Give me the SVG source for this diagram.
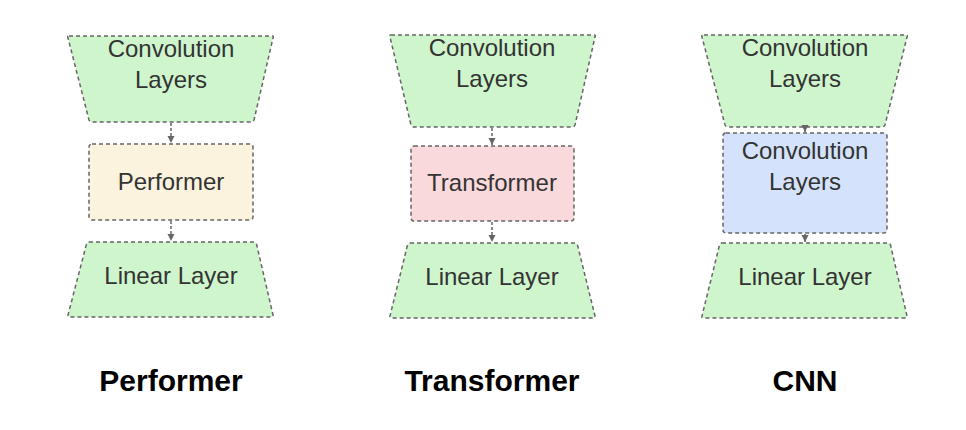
<svg xmlns="http://www.w3.org/2000/svg" width="966" height="430" viewBox="0 0 966 430">
<defs>
<style>
.shape{stroke:#666;stroke-width:1.5;stroke-dasharray:4 3;stroke-linejoin:round}
.green{fill:#cff5cd}
.perf{fill:#fcf3de}
.trans{fill:#f9d9db}
.blue{fill:#d4e3fb}
.lbl{font-family:"Liberation Sans",Arial,sans-serif;font-size:24px;fill:#333;text-anchor:middle}
.title{font-family:"Liberation Sans",Arial,sans-serif;font-size:30px;font-weight:bold;fill:#000;text-anchor:middle}
.conn{stroke:#666;stroke-width:1.5;stroke-dasharray:3 2;fill:none}
</style>
<marker id="ah" markerWidth="8" markerHeight="8" refX="7" refY="4" orient="auto" markerUnits="userSpaceOnUse">
<path d="M0,0.5 L7,4 L0,7.5 Z" fill="#666"/>
</marker>
</defs>
<rect width="966" height="430" fill="#fff"/>

<g id="perf-conv">
<path class="shape green" d="M69,36 L272,36 Q274,36 273,38 L254,120 Q253,122 251,122 L92,122 Q90,122 89,120 L68,38 Q67,36 69,36 Z"/>
<text class="lbl" x="171" y="57">Convolution</text>
<text class="lbl" x="171" y="88">Layers</text>
</g>
<g id="perf-main">
<rect class="shape perf" x="89" y="144" width="164" height="76" rx="3"/>
<text class="lbl" x="171" y="190">Performer</text>
</g>
<g id="perf-linear">
<path class="shape green" d="M89,242 L254,242 Q256,242 256.5,244 L273,315 Q273.5,317 271,317 L70,317 Q67.5,317 68,315 L86.5,244 Q87,242 89,242 Z"/>
<text class="lbl" x="171" y="284">Linear Layer</text>
</g>

<g id="trans-conv">
<path class="shape green" d="M391,35 L594,35 Q596,35 595,37 L575,125 Q574,127 572,127 L414,127 Q412,127 411,125 L390,37 Q389,35 391,35 Z"/>
<text class="lbl" x="492" y="56">Convolution</text>
<text class="lbl" x="492" y="87">Layers</text>
</g>
<g id="trans-main">
<rect class="shape trans" x="411" y="146" width="163" height="75" rx="3"/>
<text class="lbl" x="492" y="191">Transformer</text>
</g>
<g id="trans-linear">
<path class="shape green" d="M410,243 L575,243 Q577,243 577.5,245 L595,316 Q595.5,318 593,318 L392,318 Q389.5,318 390,316 L407.5,245 Q408,243 410,243 Z"/>
<text class="lbl" x="492" y="285">Linear Layer</text>
</g>

<g id="cnn-conv">
<path class="shape green" d="M704,35 L906,35 Q908,35 907,37 L885,125 Q884,127 882,127 L728,127 Q726,127 725,125 L702,37 Q701,35 704,35 Z"/>
<text class="lbl" x="805" y="56">Convolution</text>
<text class="lbl" x="805" y="87">Layers</text>
</g>
<g id="cnn-main">
<rect class="shape blue" x="723" y="133" width="164" height="100" rx="3"/>
<text class="lbl" x="805" y="159">Convolution</text>
<text class="lbl" x="805" y="190">Layers</text>
</g>
<g id="cnn-linear">
<path class="shape green" d="M722,243 L888,243 Q890,243 890.5,245 L907,316 Q907.5,318 905,318 L704,318 Q701.5,318 702,316 L719.5,245 Q720,243 722,243 Z"/>
<text class="lbl" x="805" y="285">Linear Layer</text>
</g>

<g id="connectors">
<line class="conn" x1="171" y1="123" x2="171" y2="143" marker-end="url(#ah)"/>
<line class="conn" x1="171" y1="221" x2="171" y2="241" marker-end="url(#ah)"/>
<line class="conn" x1="492" y1="128" x2="492" y2="145" marker-end="url(#ah)"/>
<line class="conn" x1="492" y1="222" x2="492" y2="242" marker-end="url(#ah)"/>
<line class="conn" x1="805" y1="125" x2="805" y2="132" marker-end="url(#ah)"/>
<line class="conn" x1="805" y1="234" x2="805" y2="242" marker-end="url(#ah)"/>
</g>

<g id="titles">
<text class="title" x="171" y="391">Performer</text>
<text class="title" x="492" y="391">Transformer</text>
<text class="title" x="805" y="391">CNN</text>
</g>
</svg>
